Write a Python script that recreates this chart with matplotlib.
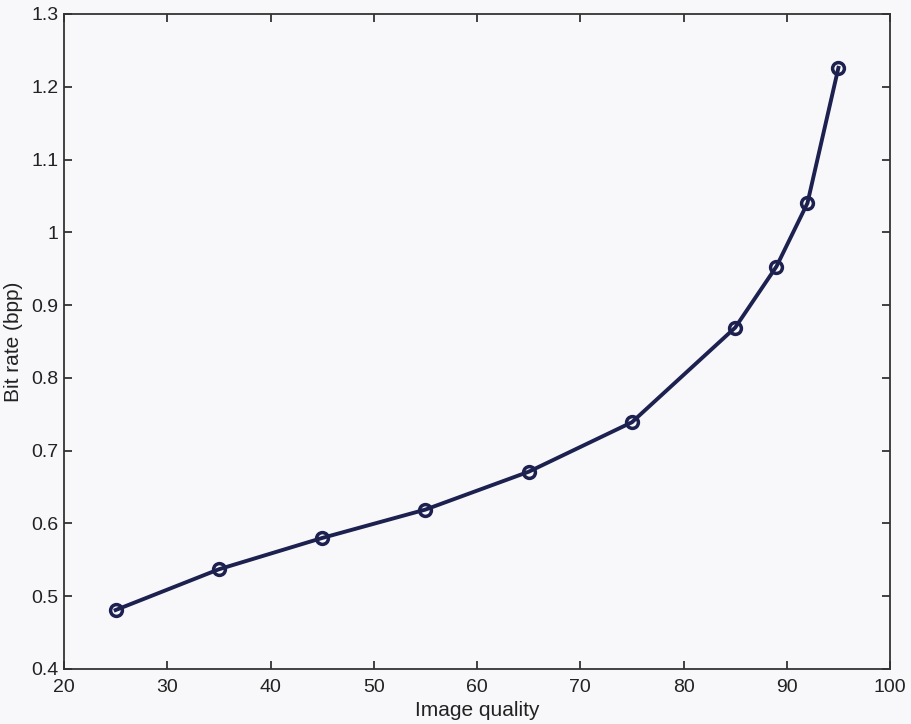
import matplotlib
matplotlib.use('Agg')
import matplotlib.pyplot as plt

plt.rcParams['font.family'] = ['Liberation Sans', 'DejaVu Sans']

# image quality vs bit rate
quality = [25, 35, 45, 55, 65, 75, 85, 89, 92, 95]
bitrate = [0.481, 0.537, 0.580, 0.619, 0.671, 0.739, 0.869, 0.953, 1.040, 1.226]

x_ticks = [20, 30, 40, 50, 60, 70, 80, 90, 100]
y_ticks = [0.4, 0.5, 0.6, 0.7, 0.8, 0.9, 1.0, 1.1, 1.2, 1.3]
y_labels = ['0.4', '0.5', '0.6', '0.7', '0.8', '0.9', '1', '1.1', '1.2', '1.3']

bg = '#f8f8fa'
navy = '#1c2150'

fig = plt.figure(figsize=(9.12, 7.24), dpi=100, facecolor=bg)
ax = fig.add_axes([0.0702, 0.076, 0.9057, 0.9047])
ax.set_facecolor(bg)

ax.plot(quality, bitrate, color=navy, linewidth=2.8, marker='o', markersize=8.5,
        markerfacecolor='none', markeredgecolor=navy, markeredgewidth=2.5)

ax.set_xlim(20, 100)
ax.set_ylim(0.4, 1.3)
ax.set_xticks(x_ticks)
ax.set_yticks(y_ticks)
ax.set_yticklabels(y_labels)
ax.tick_params(direction='in', top=True, right=True, length=6, width=1.2,
               labelsize=14, colors='#222222')
ax.tick_params(axis='x', pad=7)
ax.tick_params(axis='y', pad=4)
for s in ax.spines.values():
    s.set_linewidth(1.3)
    s.set_color('#333333')

ax.set_xlabel('Image quality', fontsize=15, color='#222222', labelpad=4)
ax.set_ylabel('Bit rate (bpp)', fontsize=15, color='#222222', labelpad=6)

fig.savefig('out.png', dpi=100, facecolor=bg)
